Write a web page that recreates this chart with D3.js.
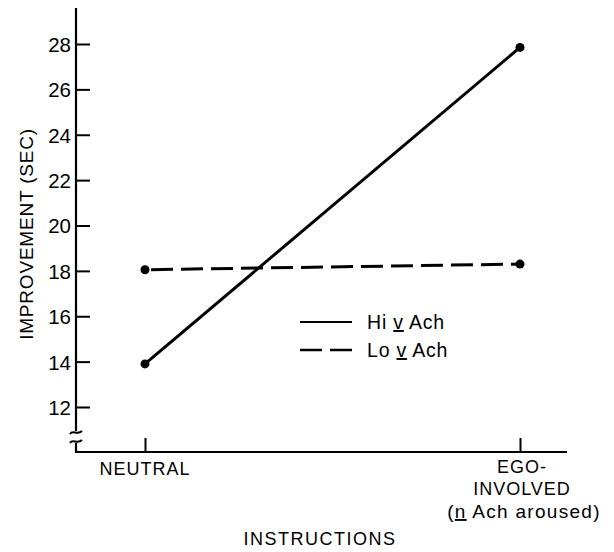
<!DOCTYPE html>
<html><head><meta charset="utf-8">
<script src="https://cdn.jsdelivr.net/npm/d3@7"></script>
<style>body{margin:0;background:#fff}svg{display:block}text{font-family:"Liberation Sans",Arial,sans-serif;fill:#000}</style>
</head><body>
<script>
const categories = ["NEUTRAL", "EGO"];
const hiAch = [13.9, 27.85];
const loAch = [18.05, 18.3];
const yTicks = [12, 14, 16, 18, 20, 22, 24, 26, 28];
const seriesNames = ["Hi", "Lo"];

const W = 614, H = 552;
const svg = d3.select("body").append("svg").attr("width", W).attr("height", H);

const y = d3.scaleLinear().domain([12, 28]).range([407, 44]);
const x = d3.scalePoint().domain(categories).range([145, 520]);
const axisX = 76, axisBottom = 452;

// y axis line with break
const ax = svg.append("g").attr("stroke", "#000").attr("fill", "none");
ax.append("line").attr("x1", axisX).attr("x2", axisX).attr("y1", 8).attr("y2", 431).attr("stroke-width", 2.2);
ax.append("line").attr("x1", axisX).attr("x2", axisX).attr("y1", 443).attr("y2", axisBottom + 1).attr("stroke-width", 2.2);
[432, 441].forEach(yy => {
  ax.append("path").attr("d", `M${axisX-6},${yy+2} C${axisX-3},${yy-3} ${axisX+1},${yy+4} ${axisX+6},${yy-1}`).attr("stroke-width", 2);
});
// x axis line
ax.append("line").attr("x1", axisX - 1).attr("x2", 567).attr("y1", axisBottom).attr("y2", axisBottom).attr("stroke-width", 2.2);

// y ticks via d3 axis
const yAxis = d3.axisRight(y).tickValues(yTicks).tickSize(14).tickFormat("");
const gy = svg.append("g").attr("transform", `translate(${axisX},0)`).call(yAxis);
gy.select(".domain").remove();
gy.selectAll(".tick line").attr("stroke", "#000").attr("stroke-width", 2);
gy.selectAll(".tick").append("text")
  .attr("x", -5).attr("dy", "0.36em").attr("text-anchor", "end")
  .attr("font-size", 20.5).text(d => d);

// x ticks
const xAxis = d3.axisTop(x).tickSize(14).tickFormat("");
const gx = svg.append("g").attr("transform", `translate(0,${axisBottom})`).call(xAxis);
gx.select(".domain").remove();
gx.selectAll(".tick line").attr("stroke", "#000").attr("stroke-width", 2);

// x labels
svg.append("text").attr("x", x("NEUTRAL")).attr("y", 475).attr("text-anchor", "middle")
  .attr("font-size", 18).attr("letter-spacing", 1).text("NEUTRAL");
const eg = svg.append("text").attr("text-anchor", "middle").attr("font-size", 18).attr("letter-spacing", 1);
eg.append("tspan").attr("x", x("EGO") + 2).attr("y", 473).text("EGO-");
eg.append("tspan").attr("x", x("EGO") + 2).attr("y", 495).text("INVOLVED");
const ar = svg.append("text").attr("x", x("EGO") + 4).attr("y", 518).attr("text-anchor", "middle")
  .attr("font-size", 19).attr("letter-spacing", 1.3);
ar.append("tspan").text("(");
ar.append("tspan").attr("text-decoration", "underline").text("n");
ar.append("tspan").text(" Ach aroused)");

// axis titles
svg.append("text").attr("x", 320).attr("y", 545).attr("text-anchor", "middle")
  .attr("font-size", 18).attr("letter-spacing", 1.5).text("INSTRUCTIONS");
svg.append("text").attr("transform", "translate(33,234) rotate(-90)").attr("text-anchor", "middle")
  .attr("font-size", 19).attr("letter-spacing", 0.8).text("IMPROVEMENT (SEC)");

// series
const line = d3.line().x((d, i) => x(categories[i])).y(d => y(d));
svg.append("path").datum(hiAch).attr("d", line).attr("fill", "none").attr("stroke", "#000").attr("stroke-width", 3);
svg.append("path").datum(loAch).attr("d", line).attr("fill", "none").attr("stroke", "#000").attr("stroke-width", 3)
  .attr("stroke-dasharray", "22,8").attr("stroke-dashoffset", -6);
[hiAch, loAch].forEach(s => {
  svg.selectAll(null).data(s).enter().append("circle")
    .attr("cx", (d, i) => x(categories[i])).attr("cy", d => y(d)).attr("r", 4.5).attr("fill", "#000");
});

// legend
const lg = svg.append("g");
lg.append("line").attr("x1", 300).attr("x2", 352).attr("y1", 322).attr("y2", 322).attr("stroke", "#000").attr("stroke-width", 2.2);
lg.append("line").attr("x1", 300).attr("x2", 352).attr("y1", 350).attr("y2", 350).attr("stroke", "#000").attr("stroke-width", 2.5).attr("stroke-dasharray", "22,8");
[[seriesNames[0], 329], [seriesNames[1], 357]].forEach(([n, yy]) => {
  const t = lg.append("text").attr("x", 367).attr("y", yy).attr("font-size", 19.5).attr("letter-spacing", 0.8);
  t.append("tspan").text(n + " ");
  t.append("tspan").attr("text-decoration", "underline").text("v");
  t.append("tspan").text("  Ach");
});
</script>
</body></html>
